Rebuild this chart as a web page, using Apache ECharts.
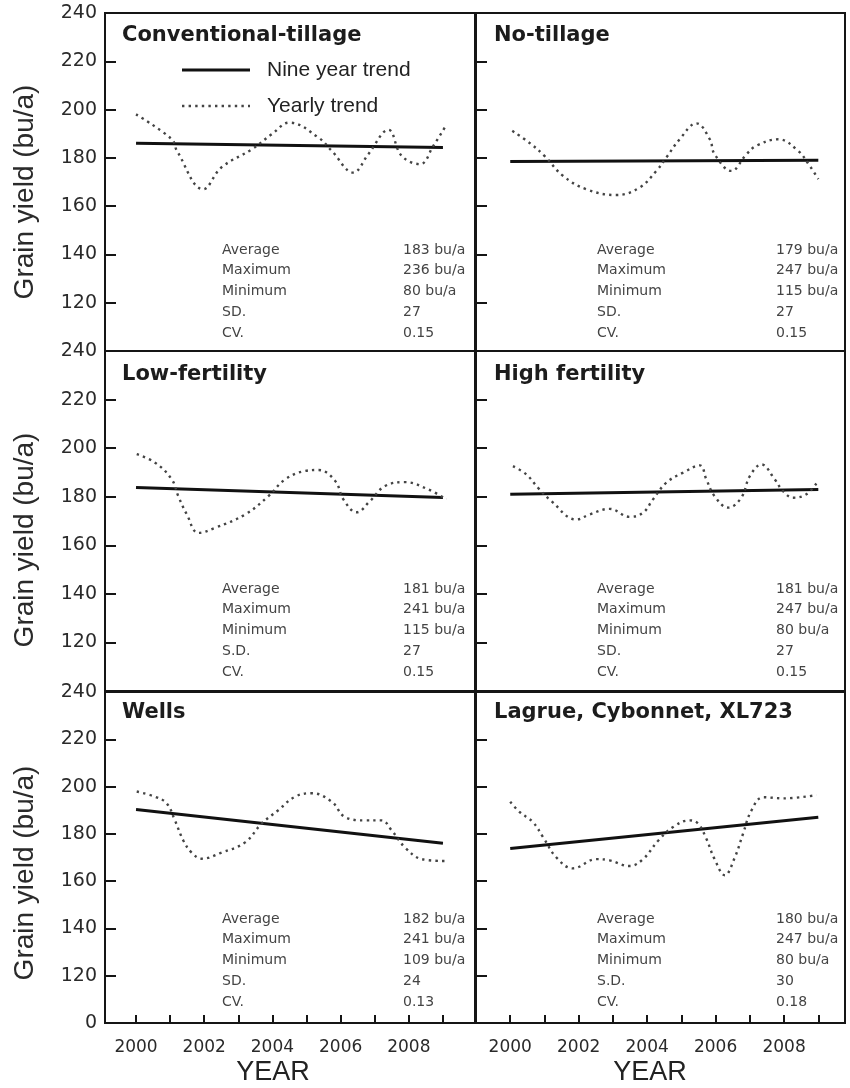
<!DOCTYPE html>
<html>
<head>
<meta charset="utf-8">
<script src="https://cdn.jsdelivr.net/npm/echarts@6/dist/echarts.min.js"></script>
<style>
  html, body { margin: 0; padding: 0; background: #fff; }
  #chart { width: 850px; height: 1088px; }
</style>
</head>
<body>
<div id="chart"></div>
<script>
// Year axis ticks and labels
const tickYears = [2000, 2001, 2002, 2003, 2004, 2005, 2006, 2007, 2008, 2009];
const labelYears = [2000, 2002, 2004, 2006, 2008];

const panelTitles = ['Conventional-tillage', 'No-tillage', 'Low-fertility',
                     'High fertility', 'Wells', 'Lagrue, Cybonnet, XL723'];
const legendNames = ['Nine year trend', 'Yearly trend'];

// Nine year trend: fitted yield at the first and last year
const trendYears = [2000, 2009];
const trendConv = [186, 184.3];
const trendNoTill = [178.5, 179];
const trendLowFert = [183.8, 179.7];
const trendHighFert = [181, 183];
const trendWells = [190.3, 176];
const trendLagrue = [173.8, 187];

// Yearly trend (smoothed yearly yields), positions along the year axis
const convX = [2000.0, 2001.05, 2001.2, 2001.97, 2002.5, 2003.4, 2003.98, 2004.5, 2005.35, 2005.74, 2006.37, 2006.81, 2007.4, 2007.79, 2008.33, 2008.72, 2009.05];
const convY = [198, 187.7, 182.9, 167, 176, 183.6, 189.8, 194.6, 188.4, 182.9, 173.9, 181.5, 191.6, 180.8, 177.4, 185, 192.5];

const noTillX = [2000.06, 2000.61, 2001.0, 2001.54, 2002.22, 2003.1, 2003.78, 2004.27, 2004.56, 2004.95, 2005.44, 2005.83, 2005.97, 2006.46, 2006.9, 2007.19, 2007.83, 2008.41, 2008.75, 2009.0];
const noTillY = [191.2, 185.7, 180.8, 172.6, 167, 164.6, 167.7, 174.6, 180.1, 187.7, 194.3, 187.7, 181.5, 174.6, 181.5, 185, 187.7, 182.9, 176.7, 171.2];

const lowFertX = [2000.02, 2000.56, 2001.05, 2001.24, 2001.49, 2001.83, 2002.32, 2003.2, 2003.88, 2004.37, 2004.96, 2005.35, 2005.84, 2006.08, 2006.47, 2006.86, 2007.3, 2007.89, 2008.57, 2009.1];
const lowFertY = [197.5, 194, 187.1, 180.2, 172.7, 165.1, 167.2, 172.7, 180.2, 187.1, 190.6, 191, 186.5, 178.9, 173.6, 178.2, 184.4, 186, 183, 178.9];

const highFertX = [2000.08, 2000.47, 2000.81, 2001.2, 2001.93, 2002.32, 2002.9, 2003.49, 2003.88, 2004.17, 2004.56, 2005.05, 2005.54, 2005.73, 2005.97, 2006.37, 2006.75, 2007.0, 2007.34, 2007.73, 2007.97, 2008.27, 2008.65, 2008.97];
const highFertY = [192.6, 189.2, 183.7, 178.2, 170.6, 172.7, 175, 171.7, 173.4, 178.9, 185.8, 189.9, 192.9, 187.1, 180.2, 175.5, 179.6, 188.5, 193.3, 187.1, 182.3, 179.6, 181, 186];

const wellsX = [2000.02, 2000.56, 2000.9, 2001.14, 2001.39, 2001.63, 2001.93, 2002.51, 2003.2, 2003.68, 2004.17, 2004.66, 2005.15, 2005.74, 2006.13, 2006.72, 2007.2, 2007.5, 2007.89, 2008.38, 2009.05];
const wellsY = [197.9, 195.7, 192.9, 185.7, 177.1, 172.1, 169.5, 172.1, 176.4, 184.3, 190, 195.7, 197.2, 193.6, 187.1, 185.7, 185.7, 181.4, 174.2, 169.3, 168.5];

const lagrueX = [2000.0, 2000.27, 2000.66, 2000.96, 2001.35, 2001.83, 2002.51, 2002.9, 2003.49, 2003.88, 2004.32, 2004.76, 2005.24, 2005.49, 2005.73, 2005.97, 2006.27, 2006.56, 2006.8, 2007.05, 2007.39, 2007.97, 2008.95];
const lagrueY = [193.6, 189.3, 185, 178.6, 170, 165.4, 169.3, 168.8, 166.4, 169.3, 177.1, 182.9, 185.7, 184.3, 177.9, 169.3, 162.5, 170, 180, 190, 195.5, 195, 196.4];

// Summary statistics printed in each panel
const statNames = ['Average', 'Maximum', 'Minimum', 'SD.', 'CV.'];
const statNamesDot = ['Average', 'Maximum', 'Minimum', 'S.D.', 'CV.'];
const statsConv = ['183 bu/a', '236 bu/a', '80 bu/a', '27', '0.15'];
const statsNoTill = ['179 bu/a', '247 bu/a', '115 bu/a', '27', '0.15'];
const statsLowFert = ['181 bu/a', '241 bu/a', '115 bu/a', '27', '0.15'];
const statsHighFert = ['181 bu/a', '247 bu/a', '80 bu/a', '27', '0.15'];
const statsWells = ['182 bu/a', '241 bu/a', '109 bu/a', '24', '0.13'];
const statsLagrue = ['180 bu/a', '247 bu/a', '80 bu/a', '30', '0.18'];

const panels = [
  { title: panelTitles[0], trend: trendConv, x: convX, y: convY, names: statNames, stats: statsConv },
  { title: panelTitles[1], trend: trendNoTill, x: noTillX, y: noTillY, names: statNames, stats: statsNoTill },
  { title: panelTitles[2], trend: trendLowFert, x: lowFertX, y: lowFertY, names: statNamesDot, stats: statsLowFert },
  { title: panelTitles[3], trend: trendHighFert, x: highFertX, y: highFertY, names: statNames, stats: statsHighFert },
  { title: panelTitles[4], trend: trendWells, x: wellsX, y: wellsY, names: statNames, stats: statsWells },
  { title: panelTitles[5], trend: trendLagrue, x: lagrueX, y: lagrueY, names: statNamesDot, stats: statsLagrue }
];

// Line styles shared by the plotted series and the key
const trendStyle = { stroke: '#111', lineWidth: 3 };
const yearlyStyle = { stroke: '#444', lineWidth: 2.4, lineDash: [2.4, 4.2] };

// Layout of the 3 x 2 panel grid
const cols = [
  { left: 105, width: 370, min: 1999.09, max: 2009.94, titleX: 122, statX: 222, valX: 403, yearX: 273 },
  { left: 476, width: 369, min: 1999.0, max: 2009.78, titleX: 494, statX: 597, valX: 776, yearX: 650 }
];
const rows = [
  { top: 13, height: 338, titleY: 36, statY: 250, axisTitleY: 192 },
  { top: 351, height: 340, titleY: 375, statY: 589, axisTitleY: 540 },
  { top: 692, height: 331, titleY: 713, statY: 919, axisTitleY: 873 }
];
const statGap = 20.8;

const grids = [], xAxes = [], yAxes = [], series = [], graphics = [];

panels.forEach((p, i) => {
  const c = cols[i % 2];
  const r = rows[Math.floor(i / 2)];
  const bottomRow = Math.floor(i / 2) === 2;
  const leftCol = i % 2 === 0;

  grids.push({
    left: c.left, top: r.top, width: c.width, height: r.height,
    show: true, borderColor: '#151515', borderWidth: 2, backgroundColor: 'transparent'
  });

  xAxes.push({
    type: 'value', gridIndex: i, min: c.min, max: c.max,
    splitLine: { show: false },
    axisLine: { show: false },
    axisTick: {
      show: bottomRow, inside: true, length: 8, customValues: tickYears,
      lineStyle: { color: '#151515', width: 2 }
    },
    axisLabel: {
      show: bottomRow, customValues: labelYears, margin: 16,
      fontFamily: 'DejaVu Sans', fontSize: 17, color: '#2a2a2a',
      formatter: v => String(v)
    }
  });

  yAxes.push({
    type: 'value', gridIndex: i, min: 100, max: 240, interval: 20,
    splitLine: { show: false },
    axisLine: { show: false },
    axisTick: { show: true, inside: true, length: 11, lineStyle: { color: '#151515', width: 2 } },
    axisLabel: {
      show: leftCol, margin: 8,
      fontFamily: 'DejaVu Sans', fontSize: 19, color: '#2a2a2a',
      formatter: v => (v === 100 ? (bottomRow ? '0' : '') : String(v))
    }
  });

  series.push({
    name: legendNames[0], type: 'line', xAxisIndex: i, yAxisIndex: i,
    symbol: 'none', silent: true, color: trendStyle.stroke,
    lineStyle: { color: trendStyle.stroke, width: trendStyle.lineWidth, type: 'solid' },
    data: trendYears.map((yr, k) => [yr, p.trend[k]])
  });
  series.push({
    name: legendNames[1], type: 'line', xAxisIndex: i, yAxisIndex: i,
    symbol: 'none', silent: true, smooth: 0.4, color: yearlyStyle.stroke,
    lineStyle: { color: yearlyStyle.stroke, width: yearlyStyle.lineWidth, type: yearlyStyle.lineDash },
    data: p.x.map((yr, k) => [yr, p.y[k]])
  });

  // Panel heading
  graphics.push({
    type: 'text', x: c.titleX, y: r.titleY,
    style: {
      text: p.title, fill: '#1c1c1c', font: 'bold 21px "DejaVu Sans"',
      textAlign: 'left', textVerticalAlign: 'middle'
    }
  });

  // Summary statistics block
  p.names.forEach((nm, k) => {
    graphics.push({
      type: 'text', x: c.statX, y: r.statY + k * statGap,
      style: { text: nm, fill: '#444', font: '14px "DejaVu Sans"', textAlign: 'left', textVerticalAlign: 'middle' }
    });
    graphics.push({
      type: 'text', x: c.valX, y: r.statY + k * statGap,
      style: { text: p.stats[k], fill: '#444', font: '14px "DejaVu Sans"', textAlign: 'left', textVerticalAlign: 'middle' }
    });
  });

  // Axis titles
  if (leftCol) {
    graphics.push({
      type: 'text', x: 25, y: r.axisTitleY, rotation: Math.PI / 2,
      style: {
        text: 'Grain yield (bu/a)', fill: '#2a2a2a', font: '28px "Liberation Sans"',
        textAlign: 'center', textVerticalAlign: 'middle'
      }
    });
  }
  if (bottomRow) {
    graphics.push({
      type: 'text', x: c.yearX, y: 1073,
      style: {
        text: 'YEAR', fill: '#222', font: '27px "Liberation Sans"',
        textAlign: 'center', textVerticalAlign: 'middle'
      }
    });
  }
});

// Key in the first panel
const keyRows = [
  { y: 70, style: trendStyle },
  { y: 106, style: yearlyStyle }
];
keyRows.forEach((k, j) => {
  graphics.push({
    type: 'line', shape: { x1: 182, y1: k.y, x2: 250, y2: k.y },
    style: Object.assign({ fill: null }, k.style)
  });
  graphics.push({
    type: 'text', x: 267, y: k.y,
    style: {
      text: legendNames[j], fill: '#222', font: '21px "Liberation Sans"',
      textAlign: 'left', textVerticalAlign: 'middle'
    }
  });
});

const chart = echarts.init(document.getElementById('chart'), null, { renderer: 'canvas' });
chart.setOption({
  backgroundColor: '#fff',
  animation: false,
  grid: grids,
  xAxis: xAxes,
  yAxis: yAxes,
  series: series,
  graphic: graphics
});
</script>
</body>
</html>
